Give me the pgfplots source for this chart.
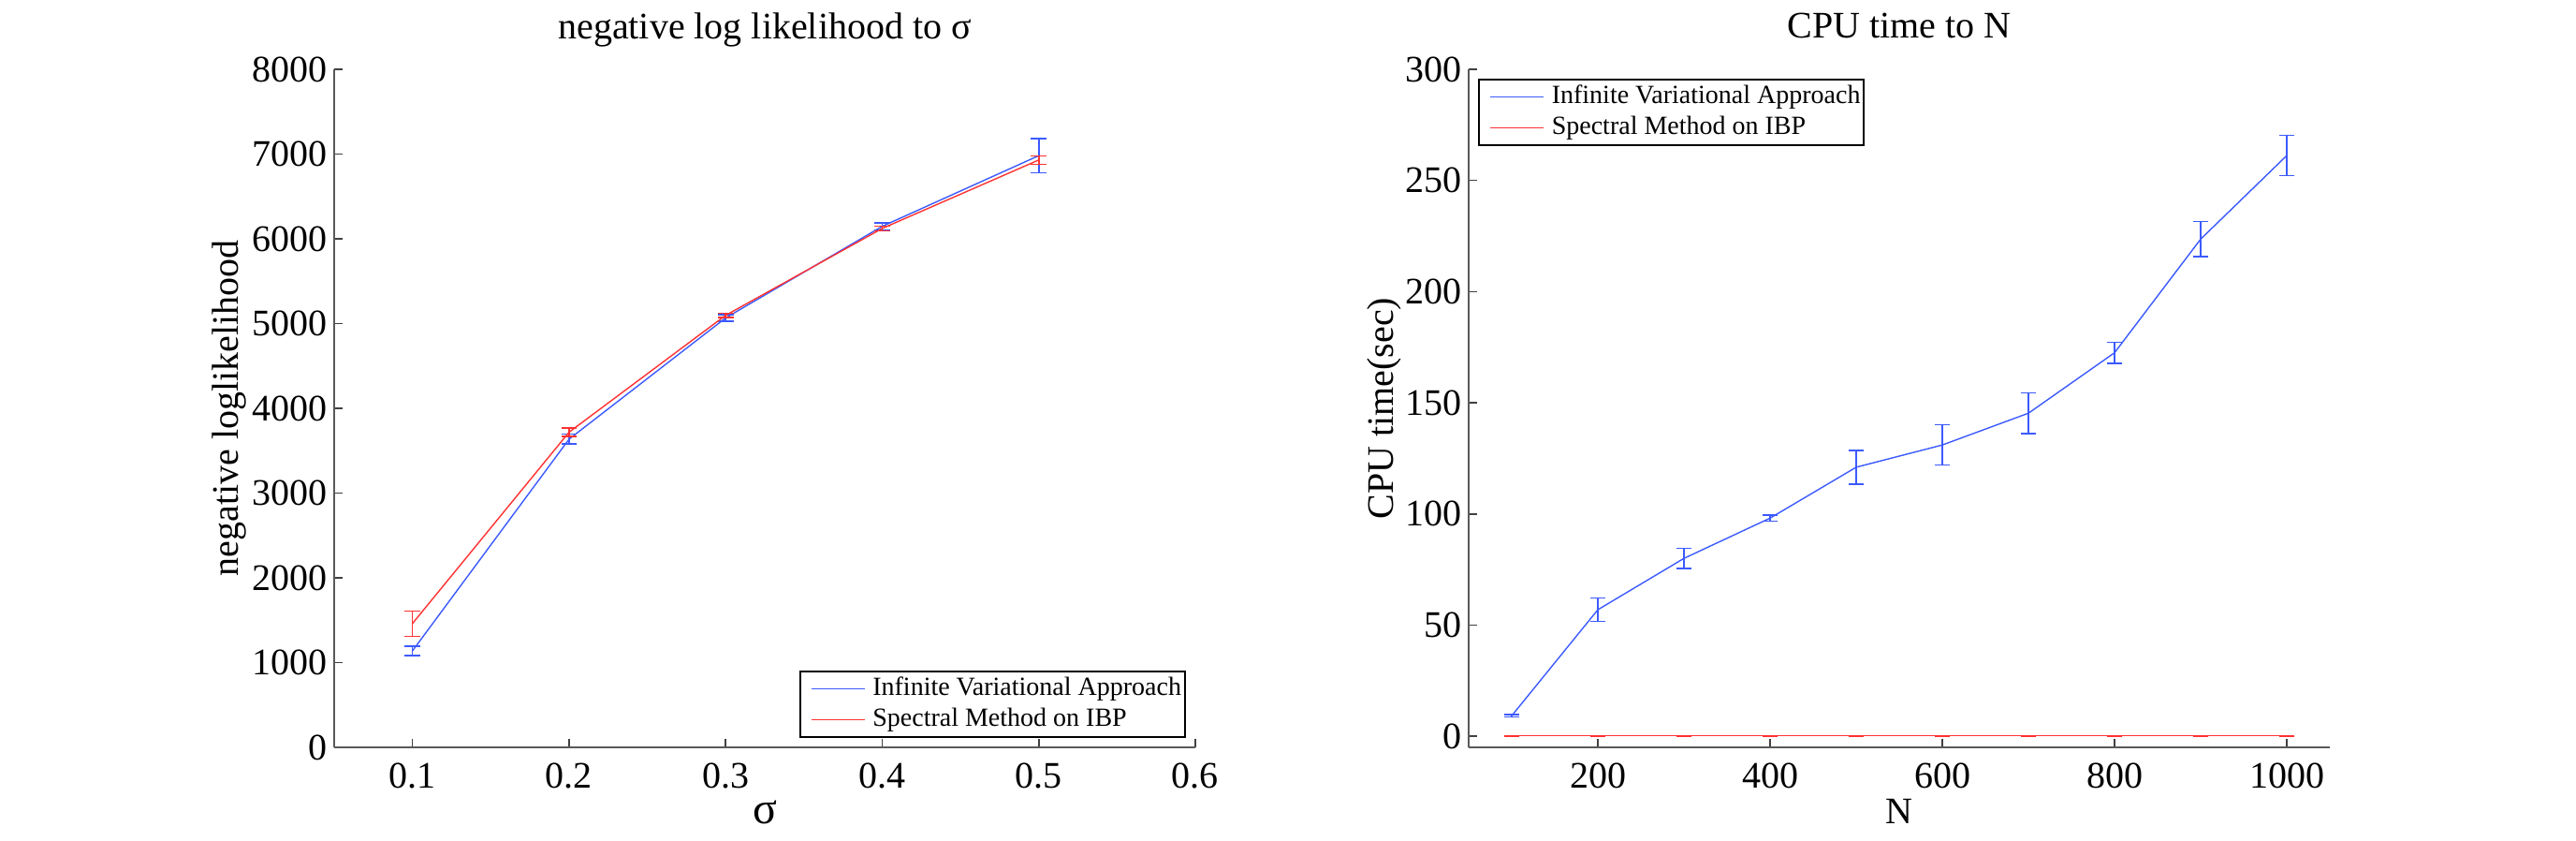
\documentclass[border=0pt]{standalone}
\usepackage{fontspec}
\setmainfont{Liberation Serif}
\usepackage{pgfplots}
\pgfplotsset{compat=1.18}
\definecolor{mblue}{RGB}{60,90,255}
\definecolor{mred}{RGB}{255,50,50}
\pgfplotsset{
 mstyle/.style={
  scale only axis, width=230pt, height=181pt,
  axis x line*=bottom, axis y line*=left,
  axis line style={black!65, line width=0.5pt, -},
  tick align=inside, major tick length=2.25pt,
  tick style={black!75, line width=0.4pt},
  /pgf/number format/assume math mode=true,
  /pgf/number format/1000 sep={},
  tick label style={font=\fontsize{10}{12}\selectfont},
  xticklabel style={inner sep=0pt, anchor=north, yshift=-4pt},
  yticklabel style={inner sep=0pt, anchor=east, xshift=-1.65pt},
  label style={font=\fontsize{10}{12}\selectfont},
  every axis title shift=0pt,
  every axis title/.style={font=\fontsize{10}{12}\selectfont, at={(0.5,1)}, anchor=base, yshift=8.25pt},
  every axis x label/.style={at={(axis description cs:0.5,0)}, anchor=base, yshift=-20.5pt},
  legend style={font=\fontsize{7}{8}\selectfont, draw=black, line width=0.5pt,
    inner xsep=1pt, inner ysep=1.3pt, row sep=1.65pt, column sep=2pt,
    nodes={inner sep=0pt, text height=5pt, text depth=1.6pt}, cells={anchor=west}},
  legend image code/.code={\draw[draw=none] (0pt,0pt) -- (2pt,0pt); \draw[#1, line width=0.4pt] (2pt,0pt) -- (16.25pt,0pt);},
  error bars/y dir=both, error bars/y explicit,
  error bars/error mark options={rotate=90, mark size=2.1pt, line width=0.35pt},
 }
}
\begin{document}
\begin{tikzpicture}
\useasboundingbox (0,0) rectangle (688pt,224.5pt);
\begin{axis}[mstyle, at={(89.25pt,25pt)}, anchor=south west,
  xmin=0.05, xmax=0.6, ymin=0, ymax=8000,
  xtick={0.1,0.2,0.3,0.4,0.5,0.6}, xticklabels={0.1,0.2,0.3,0.4,0.5,0.6},
  ytick={0,1000,...,8000},
  title={negative log likelihood to σ}, xlabel={\fontsize{12}{14}\selectfont σ},
  every axis y label/.style={at={(axis description cs:-0.1109,0.5)}, rotate=90, anchor=base},
  ylabel={negative loglikelihood},
  legend style={at={(1,0)}, anchor=south east, xshift=-2.5pt, yshift=2.5pt}]
\addplot[mblue, line width=0.35pt] coordinates {
 (0.1,1138) +- (0,57)
 (0.2,3636) +- (0,57)
 (0.3,5066) +- (0,40)
 (0.4,6147) +- (0,40)
 (0.5,6981) +- (0,203)
};
\addlegendentry{Infinite Variational Approach}
\addplot[mred, line width=0.35pt] coordinates {
 (0.1,1461) +- (0,150)
 (0.2,3718) +- (0,48)
 (0.3,5097) +- (0,25)
 (0.4,6122) +- (0,30)
 (0.5,6930) +- (0,50)
};
\addlegendentry{Spectral Method on IBP}
\end{axis}
\begin{axis}[mstyle, at={(392.25pt,25pt)}, anchor=south west,
  xmin=50, xmax=1050, ymin=-5, ymax=300,
  xtick={200,400,...,1000}, ytick={0,50,...,300},
  title={CPU time to N}, xlabel={N},
  every axis y label/.style={at={(axis description cs:-0.088,0.5)}, rotate=90, anchor=base},
  ylabel={CPU time(sec)},
  legend style={at={(0,1)}, anchor=north west, xshift=2.5pt, yshift=-2.5pt}]
\addplot[mblue, line width=0.35pt] coordinates {
 (100,9.2) +- (0,0.6)
 (200,56.9) +- (0,5.2)
 (300,80.0) +- (0,4.5)
 (400,98.1) +- (0,1.3)
 (500,121.0) +- (0,7.6)
 (600,131.0) +- (0,9.0)
 (700,145.3) +- (0,9.2)
 (800,172.5) +- (0,4.8)
 (900,223.6) +- (0,7.9)
 (1000,261.2) +- (0,9.0)
};
\addlegendentry{Infinite Variational Approach}
\addplot[mred, line width=0.35pt] coordinates {
 (100,0.2) +- (0,0.15)
 (200,0.2) +- (0,0.15)
 (300,0.2) +- (0,0.15)
 (400,0.2) +- (0,0.15)
 (500,0.2) +- (0,0.15)
 (600,0.2) +- (0,0.15)
 (700,0.2) +- (0,0.15)
 (800,0.2) +- (0,0.15)
 (900,0.2) +- (0,0.15)
 (1000,0.2) +- (0,0.15)
};
\addlegendentry{Spectral Method on IBP}
\end{axis}
\end{tikzpicture}
\end{document}
